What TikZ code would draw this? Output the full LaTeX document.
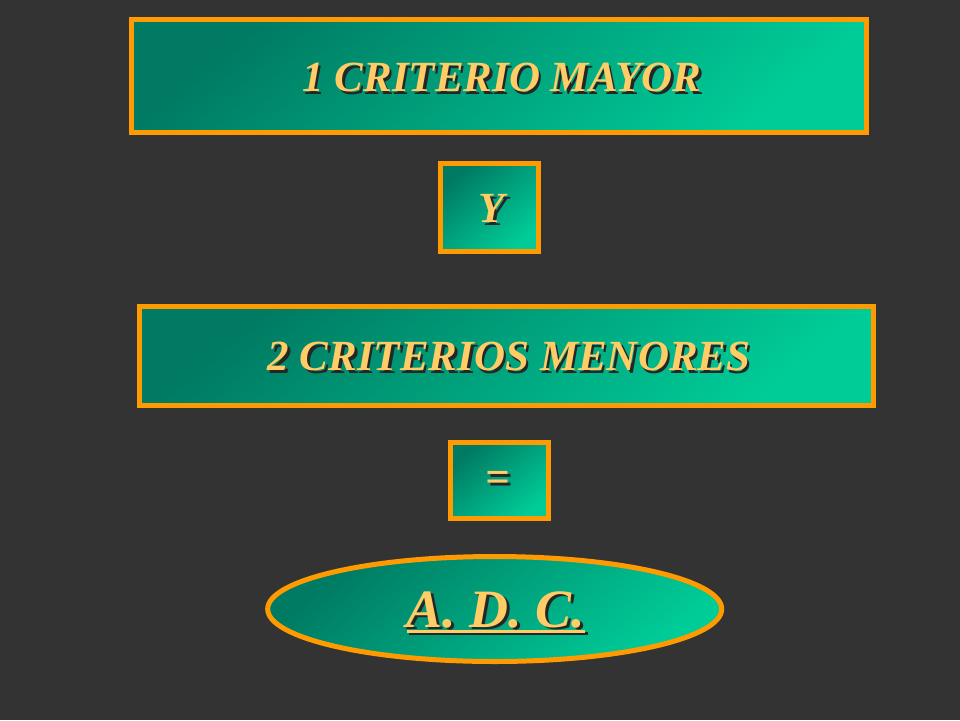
\documentclass[tikz,border=0pt]{standalone}
\usepackage{fontspec}
\setmainfont{Liberation Serif}
\usetikzlibrary{shapes.geometric}
\definecolor{bgc}{HTML}{333333}
\definecolor{frame}{HTML}{FF9A00}
\definecolor{tealdark}{HTML}{007A62}
\definecolor{teallight}{HTML}{00CC98}
\definecolor{gold}{HTML}{FFCC66}
\newcommand{\shtxt}[1]{\rlap{\kern2.5pt\raisebox{-2.5pt}{\color{black!85}#1}}{\color{gold}#1}}
\newcommand{\thickul}[1]{\vtop{\hbox{#1}\kern2pt\hrule height 3.2pt}}
\tikzset{
  panel/.style={draw=frame, line width=5pt, top color=tealdark, bottom color=teallight,
    shading angle=40, inner sep=0pt},
  big/.style={font=\fontsize{43}{50}\selectfont\bfseries\itshape},
  huge/.style={font=\fontsize{54}{60}\selectfont\bfseries\itshape}
}
\begin{document}
\begin{tikzpicture}[x=1pt,y=-1pt]
\fill[bgc] (0,0) rectangle (960,720);
\useasboundingbox (0,0) rectangle (960,720);
\node[panel, minimum width=735pt, minimum height=113pt] (b1) at (498.5,76) {};
\node[big] (t1) at (502,79) {\shtxt{1 CRITERIO MAYOR}};
\node[panel, minimum width=98pt, minimum height=88pt] (by) at (489.5,207.5) {};
\node[big] (ty) at (492,210) {\shtxt{Y}};
\node[panel, minimum width=734pt, minimum height=99pt] (b2) at (506.5,356) {};
\node[big] (t2) at (509,358) {\shtxt{2 CRITERIOS MENORES}};
\node[panel, minimum width=98pt, minimum height=76pt] (be) at (499,480.7) {};
\node[big] (te) at (498,483) {\shtxt{=}};
\node[panel, ellipse, minimum width=454pt, minimum height=105pt] (bo) at (494.7,609) {};
\node[huge, anchor=base] (to) at (496,627) {\shtxt{\thickul{A. D. C.}}};
\end{tikzpicture}
\end{document}
